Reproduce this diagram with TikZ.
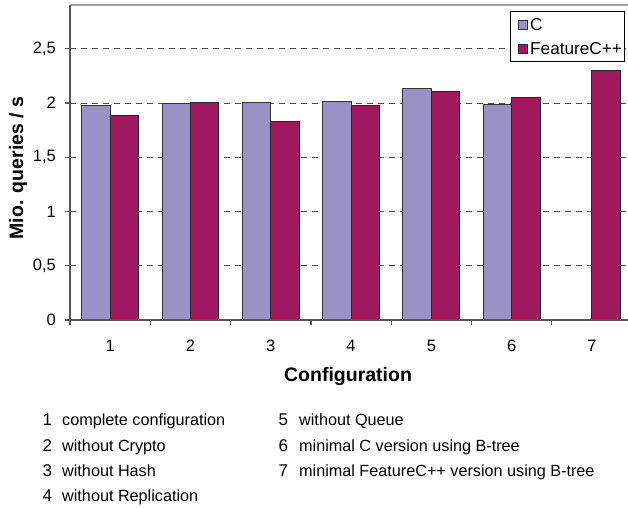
\documentclass[tikz,border=0pt]{standalone}
\usepackage{fontspec}
\setmainfont{Liberation Sans}
\definecolor{cbar}{RGB}{154,146,198}
\definecolor{fbar}{RGB}{160,24,96}
\definecolor{axisgray}{RGB}{85,85,85}
\definecolor{framegray}{RGB}{160,160,160}
\begin{document}
\begin{tikzpicture}[x=1pt,y=-1pt,
  barc/.style={draw=black!80,line width=0.9pt,fill=cbar},
  barf/.style={draw=black!85,line width=0.9pt,fill=fbar},
  gridline/.style={draw=black!70,line width=0.8pt,dash pattern=on 6pt off 5pt},
  axisline/.style={draw=axisgray,line width=1.3pt},
  ticklab/.style={font=\fontsize{16.5}{18}\selectfont,inner sep=0pt},
  axtitle/.style={font=\fontsize{19.5}{22}\bfseries\selectfont,inner sep=0pt},
  legtext/.style={font=\fontsize{17.2}{18}\selectfont,inner sep=0pt,anchor=west},
  keynum/.style={font=\fontsize{17}{18}\selectfont,inner sep=0pt,anchor=base west},
  keytext/.style={font=\fontsize{16.2}{18}\selectfont,inner sep=0pt,anchor=base west}]
\useasboundingbox (0,0) rectangle (628,507);
\begin{scope}
\clip (0,0) rectangle (628,507);
% plot frame (top edge)
\draw[framegray,line width=1.5pt] (70,5) -- (634,5);
% horizontal grid lines
\foreach \v in {0.5,1,1.5,2,2.5}
  \draw[gridline] (70,{320-108.5*\v}) -- (634,{320-108.5*\v});
% bars: category, C value, FeatureC++ value
\foreach \i/\c/\f in {1/1.975/1.883,2/1.993/2.003,3/2.003/1.828,4/2.012/1.975,5/2.136/2.108,6/1.984/2.054}{
  \pgfmathsetmacro\xs{70+(\i-1)*80.3}
  \draw[barc] (\xs+11.7,320) rectangle (\xs+40.1,{320-108.5*\c});
  \draw[barf] (\xs+40.1,320) rectangle (\xs+68.5,{320-108.5*\f});
}
\pgfmathsetmacro\xs{70+6*80.3}
\draw[barf] (\xs+40.1,320) rectangle (\xs+68.5,{320-108.5*2.296});
% axes
\draw[axisline] (70,5) -- (70,325);
\draw[axisline] (65,320) -- (634,320);
\foreach \v/\lab in {0/0,0.5/{0,5},1/1,1.5/{1,5},2/2,2.5/{2,5}}{
  \draw[axisline] (65,{320-108.5*\v}) -- (70,{320-108.5*\v});
  \node[ticklab,anchor=east] (ylab\v) at (56,{320-108.5*\v}) {\lab};
}
\foreach \i in {1,...,7}{
  \draw[axisline] ({70+\i*80.3},320) -- ({70+\i*80.3},325);
  \node[ticklab] (xlab\i) at ({70+(\i-0.5)*80.3},346) {\i};
}
% legend
\draw[black,line width=0.8pt,fill=white] (510.5,11) rectangle (624.5,61.5);
\draw[barc,line width=0.7pt] (518.5,20.5) rectangle (527.5,29.5);
\draw[barf,line width=0.7pt] (518.5,44.5) rectangle (527.5,53.5);
\node[legtext] (legC) at (530,25) {C};
\node[legtext] (legF) at (530,49) {FeatureC++};
\end{scope}
% axis titles
\node[axtitle,rotate=90] (ytitle) at (18,168) {Mio. queries / s};
\node[axtitle] (xtitle) at (348,376) {Configuration};
% configuration key
\foreach \n/\t/\yy in {1/complete configuration/425.7,2/without Crypto/451,3/without Hash/476.5,4/without Replication/501.8}{
  \node[keynum] (kn\n) at (42.5,\yy) {\n};
  \node[keytext] (kt\n) at (62,\yy) {\t};
}
\foreach \n/\t/\yy in {5/without Queue/425.7,6/minimal C version using B-tree/451,7/minimal FeatureC++ version using B-tree/476.5}{
  \node[keynum] (kn\n) at (278.5,\yy) {\n};
  \node[keytext] (kt\n) at (299,\yy) {\t};
}
\end{tikzpicture}
\end{document}
